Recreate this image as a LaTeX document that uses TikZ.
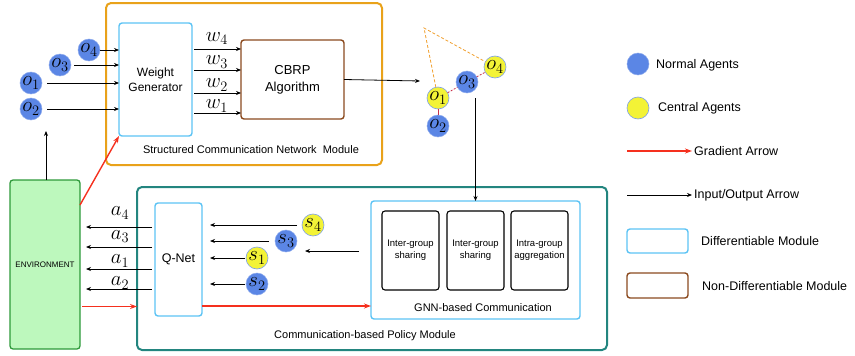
\documentclass[tikz,border=0pt]{standalone}
\usepackage[no-math]{fontspec}
\setmainfont{Liberation Sans}
\usetikzlibrary{arrows.meta,calc}
\definecolor{orangebox}{HTML}{E9A21A}
\definecolor{tealbox}{HTML}{23857F}
\definecolor{diffblue}{HTML}{5CC3F4}
\definecolor{brownbox}{HTML}{8B4A1E}
\definecolor{envfill}{HTML}{BDF8BD}
\definecolor{envdraw}{HTML}{2E9A3A}
\definecolor{gradred}{HTML}{F5301E}
\definecolor{agentblue}{HTML}{5B86E5}
\definecolor{agentyellow}{HTML}{F3F336}
\definecolor{crimdash}{HTML}{C8304A}
\definecolor{dashorange}{HTML}{F0A030}
\newcommand{\fs}[2]{\fontsize{#1}{#2}\selectfont}
\newcommand{\mfont}{\fontsize{21}{21}\selectfont}
\tikzset{
  agent/.style={circle, minimum size=22pt, inner sep=0pt, outer sep=0pt, font=\mfont},
  nagent/.style={agent, fill=agentblue, draw=agentblue!70!white, line width=0.5pt},
  cagent/.style={agent, fill=agentyellow, draw=agentblue!80!white, line width=0.6pt},
  io/.style={-{Stealth[length=5pt,width=4pt]}, line width=0.8pt, black},
  grad/.style={-{Stealth[length=7pt,width=5pt]}, line width=1.4pt, gradred},
  diff/.style={draw=diffblue, line width=1.4pt, rounded corners=3pt, outer sep=0pt, anchor=north west},
  nondiff/.style={draw=brownbox, line width=1.4pt, rounded corners=3pt, outer sep=0pt, anchor=north west},
  module/.style={line width=2pt, rounded corners=5pt, outer sep=0pt, anchor=north west},
  inbox/.style={draw=black, line width=1.1pt, rounded corners=3pt, outer sep=0pt, anchor=north west,
    minimum width=57pt, minimum height=79pt, align=center, font=\fs{9.5}{12}},
  legtext/.style={anchor=west, inner sep=2pt, font=\fs{12.5}{14}},
  mlabel/.style={font=\mfont, inner sep=0pt},
}
\begin{document}
\begin{tikzpicture}[x=1pt,y=-1pt]
\useasboundingbox (0,0) rectangle (855,356);

% modules
\node[module, draw=orangebox, minimum width=276pt, minimum height=162pt] (scnm) at (106,3) {};
\node[font=\fs{11}{13}] (scnmlabel) at (251,150) {Structured Communication Network\ \ Module};
\node[module, draw=tealbox, minimum width=470pt, minimum height=163pt] (cpm) at (137,187) {};
\node[font=\fs{11}{13}] (cpmlabel) at (365,336) {Communication-based Policy Module};

% boxes
\node[diff, minimum width=73pt, minimum height=113pt, align=center, font=\fs{12}{15}] (wg) at (119,23) {Weight\\Generator};
\node[nondiff, minimum width=103pt, minimum height=79pt, align=center, font=\fs{13}{17}] (cbrp) at (241,40) {CBRP\\Algorithm};
\node[draw=envdraw, fill=envfill, line width=1.3pt, rounded corners=3pt, outer sep=0pt, anchor=north west,
      minimum width=70pt, minimum height=169pt, font=\fs{8}{10}] (env) at (10,180) {ENVIRONMENT};
\node[diff, minimum width=47pt, minimum height=113pt, font=\fs{12.5}{15}] (qnet) at (155,203) {Q-Net};
\node[diff, minimum width=209pt, minimum height=118pt] (gnn) at (371,201) {};
\node[font=\fs{11}{13}] (gnnlabel) at (483,308) {GNN-based Communication};
\node[inbox] (g1) at (382,211) {Inter-group\\sharing};
\node[inbox] (g2) at (447,211) {Inter-group\\sharing};
\node[inbox] (g3) at (511,211) {Intra-group\\aggregation};

% left agents
\node[nagent] (o4) at (89,50) {$o_4$};
\node[nagent] (o3) at (60,65) {$o_3$};
\node[nagent] (o1) at (31,83) {$o_1$};
\node[nagent] (o2) at (31,109) {$o_2$};
\draw[io] (o4) -- (o4 -| wg.west);
\draw[io, shorten <=3pt] (o3) -- (o3 -| wg.west);
\draw[io, shorten <=5pt] (o1) -- (o1 -| wg.west);
\draw[io, shorten <=5pt] (o2) -- (o2 -| wg.west);

% weights
\foreach \yy/\ll in {49/4,70/3,93/2,113/1}{
  \draw[io, shorten <=2pt] (wg.east |- 0,\yy) -- (cbrp.west |- 0,\yy);
}
\node[mlabel] (w4) at (217,38.5) {$w_4$};
\node[mlabel] (w3) at (217,62) {$w_3$};
\node[mlabel] (w2) at (217,85) {$w_2$};
\node[mlabel] (w1) at (217,106) {$w_1$};

% environment arrows
\coordinate (envtip) at (46,131);
\draw[io] (env.north -| envtip) -- (envtip);
\draw[grad] ([yshift=-25pt]env.north east) -- (wg.south west);
\draw[grad] ([yshift=-42pt,xshift=2pt]env.east) -- ([yshift=-42pt]env.east -| cpm.west);
\draw[grad] ([yshift=-46.5pt]qnet.east) -- ([yshift=-46.5pt]qnet.east -| gnn.west);

% graph
\node[cagent] (p1) at (438,98) {$o_1$};
\node[nagent] (p2) at (438,126) {$o_2$};
\node[nagent] (p3) at (467,82) {$o_3$};
\node[cagent] (p4) at (495,67) {$o_4$};
\coordinate (apex) at (424,28);
\draw[dashorange, dash pattern=on 3pt off 2pt, line width=0.8pt] (p1) -- (apex) -- (p4);
\draw[crimdash, dash pattern=on 2pt off 1.5pt, line width=0.8pt] (p1) -- (p3);
\draw[crimdash, dash pattern=on 2pt off 1.5pt, line width=0.8pt] (p3) -- (p4);
\draw[crimdash, line width=0.8pt] (p1) -- (p2);
\coordinate (gtip) at (420,81);
\draw[io] (cbrp.east) -- (gtip);
\draw[io] (gnn.north |- 0,98) -- (gnn.north);

% actions
\foreach \yy in {227,247,269,289}{
  \draw[io, shorten <=3pt, shorten >=6pt] (qnet.west |- 0,\yy) -- (env.east |- 0,\yy);
}
\node[mlabel] (a4) at (120,213) {$a_4$};
\node[mlabel] (a3) at (120,236.5) {$a_3$};
\node[mlabel] (a1) at (120,261) {$a_1$};
\node[mlabel] (a2) at (120,283) {$a_2$};

% states
\node[cagent] (s4) at (313,225) {$s_4$};
\node[nagent] (s3) at (286,241) {$s_3$};
\node[cagent] (s1) at (257,258) {$s_1$};
\node[nagent] (s2) at (257,284) {$s_2$};
\draw[io, shorten <=5pt, shorten >=8pt] (s4.west) -- (s4.west -| qnet.east);
\draw[io, shorten <=6pt, shorten >=8pt] (s3.west) -- (s3.west -| qnet.east);
\draw[io, shorten <=1pt, shorten >=8pt] (s1.west) -- (s1.west -| qnet.east);
\draw[io, shorten <=1pt, shorten >=8pt] (s2.west) -- (s2.west -| qnet.east);
\coordinate (gin) at (305,251);
\draw[io, shorten <=12pt] (gnn.west |- gin) -- (gin);

% legend
\node[nagent] (ln) at (638,64) {};
\node[legtext] (lnt) at (654,65) {Normal Agents};
\node[cagent] (lc) at (638,108) {};
\node[legtext] (lct) at (656,108) {Central Agents};
\coordinate (lg1) at (627,151);
\node[legtext] (lgt) at (692,151) {Gradient Arrow};
\draw[grad] (lg1) -- (lgt.west);
\coordinate (li1) at (627,195);
\node[legtext] (lit) at (692,195) {Input/Output Arrow};
\draw[io] (li1) -- (lit.west);
\node[diff, minimum width=61pt, minimum height=24pt] (ld) at (627,229) {};
\node[legtext] (ldt) at (699,241) {Differentiable Module};
\node[nondiff, minimum width=61pt, minimum height=25pt] (lnd) at (627,273) {};
\node[legtext] (lndt) at (700,286) {Non-Differentiable Module};
\end{tikzpicture}
\end{document}
